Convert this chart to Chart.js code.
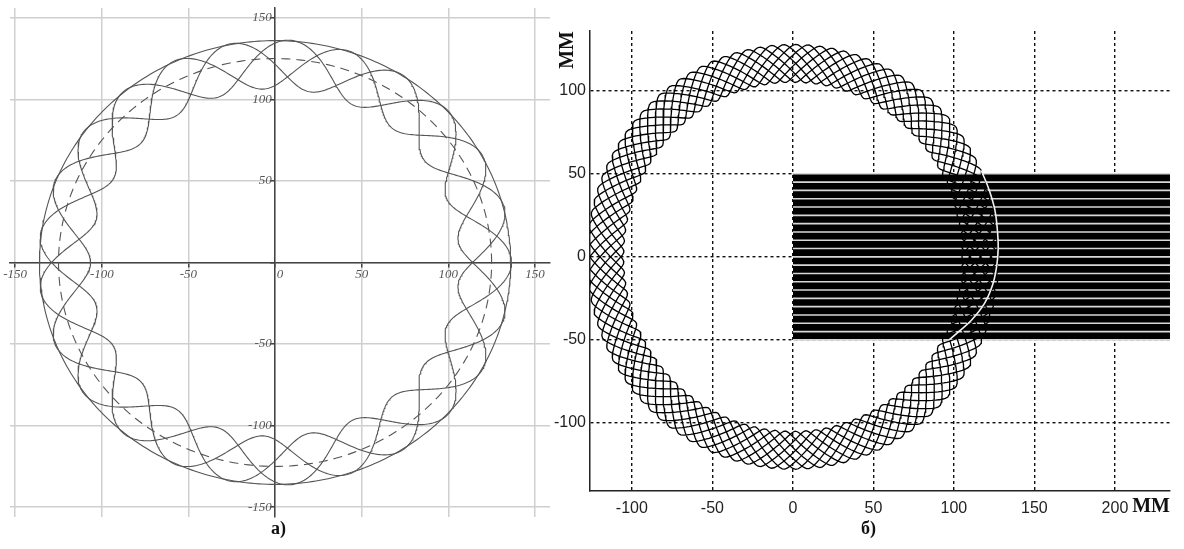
<!DOCTYPE html>
<html>
<head>
<meta charset="utf-8">
<script src="https://cdn.jsdelivr.net/npm/chart.js@4.4.1/dist/chart.umd.min.js"></script>
<style>
  html, body { margin:0; padding:0; background:#fff; width:1184px; height:549px; overflow:hidden; }
  #wa { position:absolute; left:0; top:0; width:560px; height:525px; }
  #wb { position:absolute; left:540px; top:0; width:644px; height:525px; }
  .cap { position:absolute; top:518px; font:bold 18px "Liberation Serif", serif; color:#111; }
</style>
</head>
<body>
<div id="wa"><canvas id="ca"></canvas></div>
<div id="wb"><canvas id="cb"></canvas></div>
<div class="cap" style="left:271px">а)</div>
<div class="cap" style="left:861px">б)</div>
<script>
// ---- panel a) ----
const aTicks = [-150, -100, -50, 0, 50, 100, 150];
const aXRange = [-153, 158.7];
const aYRange = [-156, 156];
// curves: [mean radius, wave amplitude, lobes per turn, turns, sharpness]
const aOuter = [136, 0, 0, 1, 0];
const aDashed = [125, 0, 0, 1, 0];
const aWave = [121.5, 15, 25 / 3, 3, 0];

// ---- panel б) ----
const bXTicks = [-100, -50, 0, 50, 100, 150, 200];
const bYTicks = [-100, -50, 0, 50, 100];
const bXRange = [-126, 234.2];
const bYRange = [-141, 136];
const bNet = [116.5, 11.5, 105 / 8, 8, 0.97];  // trajectory band (zig-zag net)
const bBlock = [0, 234.2, -50, 50];            // x0, x1, y0, y1 of the striped block
const bStripeY = [50, 45, 40, 35, 30, 25, 20, 15, 10, 5, 0, -5, -10, -15, -20, -25, -30, -35, -40, -45, -50];
const bArcX = [117, 122, 125.5, 127, 127.5, 126.5, 124, 119, 111, 103, 97];
const bArcY = [52, 40, 28, 16, 5, -6, -17, -28, -38, -45, -50];

// trace a closed loop around the origin
function trace([mean, amp, lobes, turns, sharp], steps){
  const wave = u => sharp ? Math.asin(sharp * Math.sin(u)) / Math.asin(sharp) : Math.cos(u);
  const pts = [];
  const n = Math.round(turns * steps);
  for (let i = 0; i <= n; i++) {
    const t = i / steps * 2 * Math.PI;
    const r = mean + amp * wave(lobes * t);
    pts.push({ x: r * Math.cos(t), y: r * Math.sin(t) });
  }
  return pts;
}

const fixTicks = list => scale => { scale.ticks = list.map(v => ({ value: v })); };

Chart.defaults.animation = false;
Chart.defaults.plugins.legend.display = false;
Chart.defaults.plugins.tooltip.enabled = false;

const lineA = { showLine: true, pointRadius: 0, borderColor: '#555', borderWidth: 1.1, fill: false };
const serifIt = { family: 'Liberation Serif', style: 'italic', size: 13 };

new Chart(ca, {
  type: 'scatter',
  data: {
    datasets: [
      { ...lineA, data: trace(aWave, 900) },
      { ...lineA, data: trace(aOuter, 360) },
      { ...lineA, data: trace(aDashed, 360), borderDash: [9, 6] }
    ]
  },
  options: {
    responsive: true, maintainAspectRatio: false,
    layout: { padding: { left: 10, right: 10, top: 8, bottom: 8 } },
    scales: {
      x: {
        type: 'linear', min: aXRange[0], max: aXRange[1], position: { y: 0 },
        afterBuildTicks: fixTicks(aTicks),
        afterFit: s => { s.height = 0; },
        grid: { color: '#cfcfcf', lineWidth: 1.5, tickLength: 4, tickColor: '#444' },
        border: { color: '#444', width: 1.5 },
        ticks: { padding: 0, color: '#555', font: serifIt, callback: v => v === 0 ? '   0' : v }
      },
      y: {
        type: 'linear', min: aYRange[0], max: aYRange[1], position: { x: 0 },
        afterBuildTicks: fixTicks(aTicks),
        afterFit: s => { s.width = 0; },
        grid: { color: '#cfcfcf', lineWidth: 1.5, tickLength: 4, tickColor: '#444' },
        border: { color: '#444', width: 1.5 },
        ticks: { padding: 0, color: '#555', font: serifIt, callback: v => v === 0 ? '' : v + ' ' }
      }
    }
  }
});

// striped block and white arc built from the arrays above
const blockTop = [{ x: bBlock[0], y: bBlock[3] }, { x: bBlock[1], y: bBlock[3] }];
const stripes = [];
bStripeY.forEach(y => { stripes.push({ x: bBlock[0], y }, { x: bBlock[1], y }, { x: null, y: null }); });
const arc = bArcX.map((x, i) => ({ x, y: bArcY[i] }));

const titleFont = { family: 'Liberation Serif', weight: 'bold', size: 20, lineHeight: 1 };
const tickFont = { family: 'Liberation Sans', size: 16 };

new Chart(cb, {
  type: 'scatter',
  data: {
    datasets: [
      { data: arc, showLine: true, pointRadius: 0, borderColor: '#f2f2f2', borderWidth: 1.6, tension: 0.4, order: 0 },
      { data: trace(bNet, 480), showLine: true, pointRadius: 0, borderColor: '#000', borderWidth: 1.3, order: 1 },
      { data: stripes, showLine: true, spanGaps: false, pointRadius: 0, borderColor: '#d8d8d8', borderWidth: 1.6, order: 2 },
      { data: blockTop, showLine: true, pointRadius: 0, borderColor: '#000', borderWidth: 1,
        backgroundColor: '#000', fill: { value: bBlock[2] }, order: 3 }
    ]
  },
  options: {
    responsive: true, maintainAspectRatio: false,
    layout: { padding: { left: 0, right: 14, top: 31, bottom: 8 } },
    scales: {
      x: {
        type: 'linear', min: bXRange[0], max: bXRange[1],
        afterBuildTicks: fixTicks(bXTicks),
        afterFit: s => { s.height = 26; },
        grid: { color: '#111', lineWidth: 1.4, drawTicks: false },
        border: { color: '#222', width: 1.5, dash: [3, 3] },
        ticks: { padding: 8, color: '#222', font: tickFont },
        title: { display: true, text: 'ММ', align: 'end', padding: 0, color: '#111', font: titleFont }
      },
      y: {
        type: 'linear', min: bYRange[0], max: bYRange[1],
        afterBuildTicks: fixTicks(bYTicks),
        afterFit: s => { s.width = 50; },
        grid: { color: '#111', lineWidth: 1.4, drawTicks: false },
        border: { color: '#222', width: 1.5, dash: [3, 3] },
        ticks: { padding: 4, color: '#222', font: tickFont },
        title: { display: true, text: 'ММ', align: 'end', padding: { top: 18, bottom: 0 }, color: '#111', font: titleFont }
      }
    }
  }
});
</script>
</body>
</html>
